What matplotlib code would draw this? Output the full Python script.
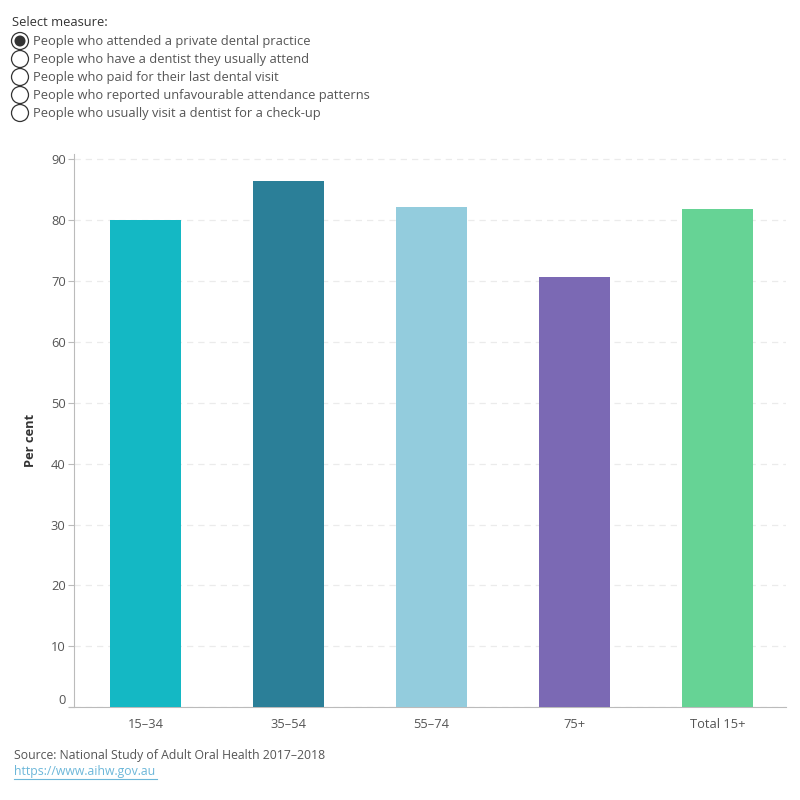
import matplotlib.pyplot as plt
import matplotlib.transforms as mtransforms
from matplotlib.patches import Circle

plt.rcParams['font.family'] = ['Open Sans', 'DejaVu Sans']

# data
age_groups = ['15–34', '35–54', '55–74', '75+', 'Total 15+']
per_cent = [80.0, 86.5, 82.1, 70.6, 81.9]
bar_colors = ['#14B8C4', '#2B7F98', '#93CCDD', '#7B69B4', '#66D395']
y_ticks = [0, 10, 20, 30, 40, 50, 60, 70, 80, 90]
measures = [
    'People who attended a private dental practice',
    'People who have a dentist they usually attend',
    'People who paid for their last dental visit',
    'People who reported unfavourable attendance patterns',
    'People who usually visit a dentist for a check-up',
]
selected = 0

fig = plt.figure(figsize=(8, 8), dpi=100)
ax = fig.add_axes([0.0925, 0.116, 0.89, 0.691])

x = range(len(age_groups))
ax.bar(x, per_cent, width=0.5, color=bar_colors, zorder=3)

ax.set_xlim(-0.5, 4.48)
ax.set_ylim(0, 90.8)
ax.set_xticks(list(x))
ax.set_xticklabels(age_groups)
ax.set_yticks(y_ticks)
ax.tick_params(axis='x', length=0, pad=8, labelsize=9.3, labelcolor='#555555')
ax.tick_params(axis='y', length=4, width=0.8, color='#BBBBBB', pad=2,
               labelsize=9.3, labelcolor='#555555')
ax.grid(axis='y', color='#EBEBEB', linestyle=(0, (5, 4)), linewidth=0.9, zorder=0)
for side in ['top', 'right']:
    ax.spines[side].set_visible(False)
ax.spines['left'].set_color('#BBBBBB')
ax.spines['bottom'].set_color('#BBBBBB')
ax.spines['bottom'].set_bounds(-0.535, 4.48)
ax.spines['bottom'].set_clip_on(False)

# lift the zero label as in the original
zero_lbl = ax.get_yticklabels()[0]
zero_lbl.set_transform(zero_lbl.get_transform() +
                       mtransforms.ScaledTranslation(0, 8 / 100, fig.dpi_scale_trans))

fig.text(30 / 800, 1 - 440 / 800, 'Per cent', rotation=90, fontsize=9.3,
         fontweight='bold', color='#333333', ha='center', va='center')

# parameter control
fig.text(12 / 800, 1 - 22 / 800, 'Select measure:', fontsize=9.3, color='#333333', va='center')
for i, m in enumerate(measures):
    yc = 41 + i * 18
    fig.patches.append(Circle((20, 800 - yc), 8.5, transform=None, facecolor='white',
                              edgecolor='#333333', linewidth=0.9))
    if i == selected:
        fig.patches.append(Circle((20, 800 - yc), 5.5, transform=None,
                                  facecolor='#333333', edgecolor='none'))
    fig.text(33 / 800, 1 - yc / 800, m, fontsize=9.3, color='#555555', va='center')

fig.text(14 / 800, 1 - 755 / 800, 'Source: National Study of Adult Oral Health 2017–2018',
         fontsize=8.8, color='#555555', va='center')
fig.text(14 / 800, 1 - 772 / 800, 'https://www.aihw.gov.au',
         fontsize=8.8, color='#6CB7D9', va='center')
fig.add_artist(plt.Line2D([14 / 800, 157 / 800], [1 - 779 / 800, 1 - 779 / 800],
                          color='#6CB7D9', linewidth=0.8))

fig.savefig('out.png', dpi=100)
